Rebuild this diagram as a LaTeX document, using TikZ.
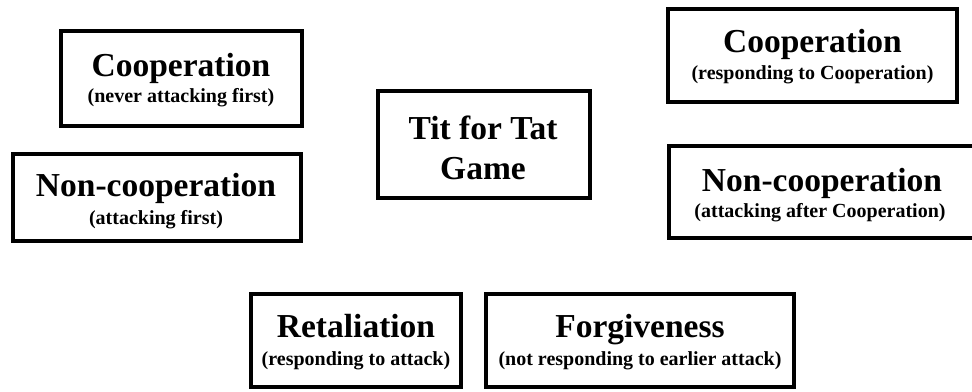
\documentclass[tikz,border=0pt]{standalone}
\usepackage{fontspec}
\setmainfont{Liberation Serif}
\tikzset{
  box/.style={draw=black, line width=4.5pt, rectangle, inner sep=0pt},
  ttl/.style={anchor=base, inner sep=0pt, font=\bfseries\fontsize{33.5}{40}\selectfont},
  sub/.style={anchor=base, inner sep=0pt, font=\bfseries\fontsize{20}{24}\selectfont},
}
\begin{document}
\begin{tikzpicture}[x=1pt,y=1pt]
\useasboundingbox (0,0) rectangle (972,391);
\begin{scope}
\clip (0,0) rectangle (972,391);
% boxes (pixel coords, y flipped)
\node[box, minimum width=241pt, minimum height=95pt] (b1) at (181.5,312.5) {};
\node[box, minimum width=288pt, minimum height=87pt] (b2) at (157,193.5) {};
\node[box, minimum width=212pt, minimum height=107pt] (b3) at (484,246.5) {};
\node[box, minimum width=289pt, minimum height=93pt] (b4) at (812.5,335.5) {};
\node[box, minimum width=309pt, minimum height=92pt] (b5) at (823.5,199) {};
\node[box, minimum width=210pt, minimum height=93pt] (b6) at (356,50.5) {};
\node[box, minimum width=308pt, minimum height=93pt] (b7) at (640,50.5) {};
\end{scope}
% texts
\node[ttl] (t1) at (181,314) {Cooperation};
\node[sub] (s1) at (181,288) {(never attacking first)};
\node[ttl] (t2) at (156,194) {Non-cooperation};
\node[sub] (s2) at (156,166) {(attacking first)};
\node[ttl] (t3a) at (483,251) {Tit for Tat};
\node[ttl] (t3b) at (483,211) {Game};
\node[ttl] (t4) at (812.5,338) {Cooperation};
\node[sub] (s4) at (812.5,311) {(responding to Cooperation)};
\node[ttl] (t5) at (822,199) {Non-cooperation};
\node[sub] (s5) at (820,173) {(attacking after Cooperation)};
\node[ttl] (t6) at (356,53) {Retaliation};
\node[sub] (s6) at (356,26) {(responding to attack)};
\node[ttl] (t7) at (640,53) {Forgiveness};
\node[sub] (s7) at (640,26) {(not responding to earlier attack)};
\end{tikzpicture}
\end{document}
